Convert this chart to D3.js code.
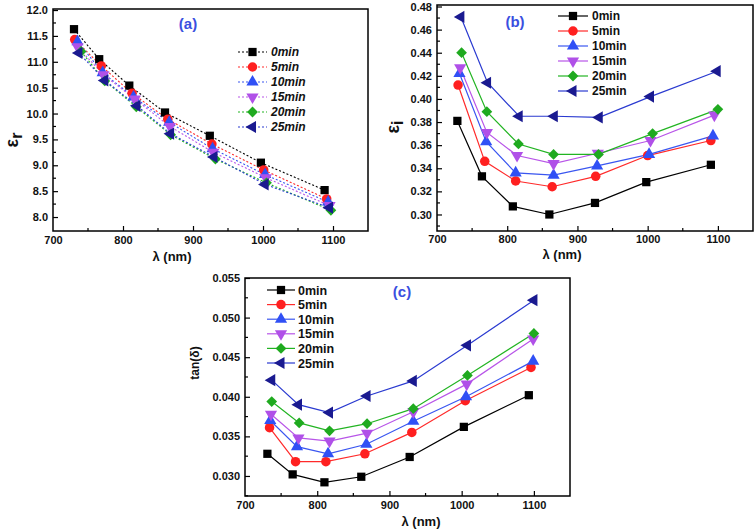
<!DOCTYPE html>
<html><head><meta charset="utf-8">
<script src="https://cdn.jsdelivr.net/npm/d3@7"></script>
<style>body{margin:0;background:#fff}svg{display:block}text{font-family:"Liberation Sans",Arial,sans-serif;font-weight:bold}</style>
</head><body><svg id="chart" width="756" height="529"></svg>
<script>
// ---------- data ----------
const seriesNames = ["0min","5min","10min","15min","20min","25min"];
const lineColors = ["#000000","#ff2a2a","#3a56f0","#b855e8","#22b422","#2a3ad0"];
const markerColors = ["#000000","#ff2020","#3050f5","#b050e8","#1faa1f","#1a1a90"];
const markerShapes = ["square","circle","triangle","triangleDown","diamond","triangleLeft"];

const xTicks = [700, 800, 900, 1000, 1100];

// (a) real permittivity
const aLambda = [
  [730, 766, 809, 860, 924, 997, 1088],
  [731, 769, 813, 864, 927, 1001, 1091],
  [735, 771, 815, 866, 928, 1003, 1093],
  [735, 772, 817, 867, 929, 1004, 1095],
  [740, 774, 819, 868, 932, 1005, 1097],
  [737, 774, 820, 868, 930, 1003, 1095]
];
const aEpsR = [
  [11.63, 11.05, 10.54, 10.02, 9.57, 9.05, 8.52],
  [11.43, 10.92, 10.39, 9.89, 9.41, 8.91, 8.35],
  [11.39, 10.79, 10.32, 9.83, 9.32, 8.82, 8.29],
  [11.29, 10.75, 10.28, 9.75, 9.25, 8.76, 8.22],
  [11.20, 10.63, 10.13, 9.59, 9.12, 8.66, 8.13],
  [11.17, 10.64, 10.15, 9.61, 9.16, 8.63, 8.18]
];
const aYTicks = [8.0, 8.5, 9.0, 9.5, 10.0, 10.5, 11.0, 11.5, 12.0];

// (b) imaginary permittivity
const bLambda = [
  [729, 764, 808, 860, 925, 998, 1090],
  [730, 768, 812, 864, 926, 1000, 1090],
  [732, 770, 812, 866, 928, 1002, 1093],
  [733, 771, 814, 866, 929, 1004, 1095],
  [735, 771, 816, 866, 930, 1007, 1100],
  [734, 772, 817, 867, 931, 1004, 1099]
];
const bEpsI = [
  [0.381, 0.333, 0.307, 0.300, 0.310, 0.328, 0.343],
  [0.412, 0.346, 0.329, 0.324, 0.333, 0.351, 0.364],
  [0.422, 0.363, 0.336, 0.334, 0.342, 0.352, 0.368],
  [0.427, 0.371, 0.351, 0.344, 0.353, 0.364, 0.386],
  [0.440, 0.389, 0.361, 0.352, 0.352, 0.370, 0.391],
  [0.471, 0.414, 0.385, 0.385, 0.384, 0.402, 0.424]
];
const bYTicks = [0.30, 0.32, 0.34, 0.36, 0.38, 0.40, 0.42, 0.44, 0.46, 0.48];

// (c) loss tangent
const cLambda = [
  [731, 766, 810, 861, 928, 1003, 1093],
  [734, 770, 812, 866, 931, 1005, 1096],
  [735, 772, 815, 868, 933, 1006, 1099],
  [736, 774, 817, 869, 933, 1007, 1099],
  [737, 775, 817, 869, 933, 1008, 1100],
  [737, 774, 817, 869, 933, 1008, 1100]
];
const cTanD = [
  [0.0328, 0.0302, 0.0292, 0.0299, 0.0324, 0.0362, 0.0402],
  [0.0361, 0.0318, 0.0318, 0.0328, 0.0355, 0.0395, 0.0437],
  [0.0370, 0.0337, 0.0328, 0.0340, 0.0369, 0.0400, 0.0445],
  [0.0378, 0.0348, 0.0344, 0.0354, 0.0381, 0.0416, 0.0473],
  [0.0394, 0.0367, 0.0357, 0.0366, 0.0385, 0.0427, 0.0480],
  [0.0421, 0.0390, 0.0380, 0.0401, 0.0420, 0.0465, 0.0522]
];
const cYTicks = [0.030, 0.035, 0.040, 0.045, 0.050, 0.055];

// ---------- drawing ----------
const svg = d3.select("#chart");

function symbolPath(shape, size) {
  const map = {
    square: [d3.symbolSquare, 0, size],
    circle: [d3.symbolCircle, 0, size * 1.05],
    triangle: [d3.symbolTriangle, 0, size * 0.95],
    triangleDown: [d3.symbolTriangle, 180, size * 0.95],
    diamond: [d3.symbolSquare, 45, size * 0.85],
    triangleLeft: [d3.symbolTriangle, -90, size * 0.95]
  };
  const [t, rot, s] = map[shape];
  return { d: d3.symbol().type(t).size(s)(), rot };
}

function drawPanel(o) {
  const g = svg.append("g");
  const x = d3.scaleLinear().domain([700, 1150]).range(o.xr);
  const y = d3.scaleLinear().domain(o.yd).range(o.yr);

  const xMinor = d3.range(750, 1150, 100);
  const yMinor = o.yMinor;
  const bottom = o.yr[0], left = o.xr[0];

  g.selectAll(".xmin").data(xMinor).join("line")
    .attr("x1", d => x(d)).attr("x2", d => x(d))
    .attr("y1", bottom).attr("y2", bottom - 3)
    .attr("stroke", "#000").attr("stroke-width", 1.2);
  g.selectAll(".ymin").data(yMinor).join("line")
    .attr("x1", left).attr("x2", left + 3)
    .attr("y1", d => y(d)).attr("y2", d => y(d))
    .attr("stroke", "#000").attr("stroke-width", 1.2);

  const xAxis = d3.axisBottom(x).tickValues(xTicks).tickSize(-5).tickPadding(o.xPad)
    .tickFormat(d3.format("d"));
  const gx = g.append("g").attr("transform", `translate(0,${bottom})`).call(xAxis);
  const yAxis = d3.axisLeft(y).tickValues(o.yTicks).tickSize(-5).tickPadding(5)
    .tickFormat(d3.format(o.yFmt));
  const gy = g.append("g").attr("transform", `translate(${left},0)`).call(yAxis);
  [gx, gy].forEach(a => {
    a.select(".domain").remove();
    a.selectAll("line").attr("stroke-width", 1.2);
    a.selectAll("text").attr("font-size", 11).attr("font-weight", "bold")
      .attr("font-family", "Liberation Sans, Arial, sans-serif").attr("fill", "#111");
  });
  gx.selectAll(".tick").filter(d => d === 700).select("line").remove();

  g.append("rect").attr("x", o.xr[0]).attr("y", o.yr[1])
    .attr("width", o.xr[1] - o.xr[0]).attr("height", o.yr[0] - o.yr[1])
    .attr("fill", "none").attr("stroke", "#000").attr("stroke-width", 1.5);

  const line = d3.line().x(d => x(d[0])).y(d => y(d[1]));
  seriesNames.forEach((name, i) => {
    const pts = o.xs[i].map((xv, j) => [xv, o.ys[i][j]]);
    g.append("path").datum(pts).attr("d", line)
      .attr("fill", "none").attr("stroke", lineColors[i]).attr("stroke-width", o.dotted ? 1.1 : 1.2)
      .attr("stroke-dasharray", o.dotted ? "2,2" : null);
  });
  seriesNames.forEach((name, i) => {
    const pts = o.xs[i].map((xv, j) => [xv, o.ys[i][j]]);
    const sp = symbolPath(markerShapes[i], 68);
    g.selectAll(null).data(pts).join("path")
      .attr("d", sp.d)
      .attr("transform", d => `translate(${x(d[0])},${y(d[1])}) rotate(${sp.rot})`)
      .attr("fill", markerColors[i]);
  });

  seriesNames.forEach((name, i) => {
    const ly = o.leg.y + o.leg.dy * i;
    g.append("line").attr("x1", o.leg.x1).attr("x2", o.leg.x2).attr("y1", ly).attr("y2", ly)
      .attr("stroke", lineColors[i]).attr("stroke-width", o.dotted ? 1.1 : 1.2)
      .attr("stroke-dasharray", o.dotted ? "2,2" : null);
    const sp = symbolPath(markerShapes[i], 68);
    g.append("path").attr("d", sp.d)
      .attr("transform", `translate(${(o.leg.x1 + o.leg.x2) / 2},${ly}) rotate(${sp.rot})`)
      .attr("fill", markerColors[i]);
    g.append("text").attr("x", o.leg.tx).attr("y", ly).attr("dy", "0.36em")
      .attr("font-size", o.leg.fs).attr("font-style", o.dotted ? "italic" : "normal")
      .attr("fill", "#111").text(name);
  });

  g.append("text").attr("x", o.title.x).attr("y", o.title.y).attr("dy", "0.36em")
    .attr("text-anchor", "middle").attr("font-size", 15).attr("fill", "#3a4fe0").text(o.title.t);

  g.append("text").attr("x", o.xl.x).attr("y", o.xl.y).attr("dy", "0.36em")
    .attr("text-anchor", "middle").attr("font-size", 13).attr("fill", "#111").text("λ (nm)");

  const yl = g.append("text").attr("transform", `translate(${o.ylab.x},${o.ylab.y}) rotate(-90)`)
    .attr("text-anchor", "middle").attr("fill", "#111").attr("font-size", o.ylab.fs);
  yl.append("tspan").text(o.ylab.main);
  if (o.ylab.sub) yl.append("tspan").attr("dy", o.ylab.subDy).attr("font-size", o.ylab.subFs).text(o.ylab.sub);
}

drawPanel({
  xr: [53, 368], yr: [231, 9], yd: [7.73, 12.02], xPad: 5,
  yTicks: aYTicks, yFmt: ".1f", yMinor: d3.range(8.25, 12, 0.5),
  xs: aLambda, ys: aEpsR, dotted: true,
  leg: { y: 52, dy: 15, x1: 238, x2: 267, tx: 271, fs: 12 },
  title: { x: 188, y: 24, t: "(a)" },
  xl: { x: 172, y: 256 },
  ylab: { x: 18, y: 140, fs: 18, main: "ε", sub: "r", subDy: 4, subFs: 16 }
});

drawPanel({
  xr: [437, 753], yr: [231, 5], yd: [0.2857, 0.4813], xPad: 4,
  yTicks: bYTicks, yFmt: ".2f", yMinor: d3.range(0.29, 0.48, 0.02),
  xs: bLambda, ys: bEpsI, dotted: false,
  leg: { y: 16, dy: 15, x1: 558, x2: 588, tx: 592, fs: 12 },
  title: { x: 515, y: 22, t: "(b)" },
  xl: { x: 562, y: 254 },
  ylab: { x: 399, y: 127, fs: 18, main: "ε", sub: "i", subDy: 4, subFs: 16 }
});

drawPanel({
  xr: [245, 570], yr: [496, 278], yd: [0.02747, 0.055], xPad: 5,
  yTicks: cYTicks, yFmt: ".3f", yMinor: d3.range(0.0275, 0.055, 0.005),
  xs: cLambda, ys: cTanD, dotted: false,
  leg: { y: 290, dy: 14.6, x1: 267, x2: 295, tx: 298, fs: 12.5 },
  title: { x: 402, y: 292, t: "(c)" },
  xl: { x: 421, y: 521 },
  ylab: { x: 199, y: 363, fs: 12, main: "tan(δ)", sub: null }
});
</script></body></html>
